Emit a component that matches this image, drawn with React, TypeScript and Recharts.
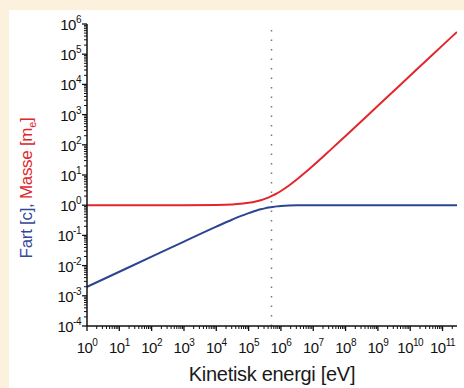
import React from 'react';
import { LineChart, Line, XAxis, YAxis, ReferenceLine } from 'recharts';

// Kinetic energy [eV]
const energyEv = [
  1, 10, 100, 1000, 10000, 31623, 56234, 100000, 133352, 177828, 237137,
  316228, 421697, 562341, 749894, 1000000, 1778279, 3162278, 5623413,
  10000000, 31622777, 100000000, 1e9, 1e10, 1e11, 2.8e11,
];
// Speed [c]
const speedC = [
  0.00198, 0.00626, 0.0198, 0.0625, 0.195, 0.336, 0.434, 0.548, 0.609, 0.671,
  0.730, 0.786, 0.837, 0.879, 0.914, 0.941, 0.975, 0.990, 0.9965, 0.9988,
  0.99987, 1, 1, 1, 1, 1,
];
// Mass [m_e]
const massMe = [
  1.000002, 1.00002, 1.0002, 1.002, 1.0196, 1.062, 1.110, 1.196, 1.261, 1.348,
  1.464, 1.619, 1.825, 2.100, 2.468, 2.957, 4.48, 7.19, 12.0, 20.57, 62.9,
  196.7, 1958, 19570, 195700, 548000,
];

const xMajorExp = [0, 1, 2, 3, 4, 5, 6, 7, 8, 9, 10, 11];
const yMajorExp = [-4, -3, -2, -1, 0, 1, 2, 3, 4, 5, 6];
const minorMult = [2, 3, 4, 5, 6, 7, 8, 9];
const restEnergyEv = 511000;

const X_MAX = 2.8e11;

const data = energyEv.map((e, i) => ({ ke: e, speed: speedC[i], mass: massMe[i] }));

const buildTicks = (exps: number[], max: number) => {
  const t: number[] = [];
  exps.forEach((d) => {
    t.push(Math.pow(10, d));
    minorMult.forEach((m) => {
      const v = m * Math.pow(10, d);
      if (v <= max * 1.0001) t.push(v);
    });
  });
  return t.filter((v) => v <= max * 1.0001);
};

const xTicks = buildTicks(xMajorExp, X_MAX);
const yTicks = buildTicks(yMajorExp, 1e6);

const FONT = '"Liberation Sans", Arial, sans-serif';

const isMajor = (v: number) => {
  const e = Math.log10(v);
  return Math.abs(e - Math.round(e)) < 1e-6;
};

const XTick = (props: any) => {
  const { x, y, payload } = props;
  const v = payload.value;
  if (!isMajor(v)) {
    return <line x1={x} x2={x} y1={y} y2={y + 3} stroke="#111" strokeWidth={1} />;
  }
  const e = Math.round(Math.log10(v));
  return (
    <g>
      <line x1={x} x2={x} y1={y} y2={y + 5} stroke="#111" strokeWidth={1.3} />
      <text x={x} y={y + 27} textAnchor="middle" fontSize={15} fontFamily={FONT} fill="#111" letterSpacing={-0.5}>
        10<tspan dy={-7} fontSize={10}>{e}</tspan>
      </text>
    </g>
  );
};

const YTick = (props: any) => {
  const { x, y, payload } = props;
  const v = payload.value;
  if (!isMajor(v)) {
    return <line x1={x - 3} x2={x} y1={y} y2={y} stroke="#111" strokeWidth={1} />;
  }
  const e = Math.round(Math.log10(v));
  return (
    <g>
      <line x1={x - 5} x2={x} y1={y} y2={y} stroke="#111" strokeWidth={1.3} />
      <text x={x - 6} y={y + 6} textAnchor="end" fontSize={15} fontFamily={FONT} fill="#111" letterSpacing={-0.5}>
        10<tspan dy={-7} fontSize={10}>{e}</tspan>
      </text>
    </g>
  );
};

export default function App() {
  return (
    <div style={{ position: 'absolute', left: 0, top: 0, width: 464, height: 388, background: '#fcf1dc', overflow: 'hidden' }}>
      <div style={{ position: 'absolute', left: 9, top: 10, width: 455, height: 378, background: '#ffffff' }} />
      <div style={{ position: 'absolute', left: 0, top: 0 }}>
        <LineChart
          width={464}
          height={388}
          data={data}
          margin={{ top: 24, right: 7, bottom: 22, left: 0 }}
        >
          <XAxis
            dataKey="ke"
            type="number"
            scale="log"
            domain={[1, X_MAX]}
            ticks={xTicks}
            interval={0}
            tickSize={0}
            tickMargin={0}
            tick={<XTick />}
            height={40}
            axisLine={{ stroke: '#111', strokeWidth: 1.5 }}
            allowDataOverflow
          />
          <YAxis
            type="number"
            scale="log"
            domain={[1e-4, 1e6]}
            ticks={yTicks}
            interval={0}
            tickSize={0}
            tickMargin={0}
            tick={<YTick />}
            width={87}
            axisLine={{ stroke: '#111', strokeWidth: 1.5 }}
            allowDataOverflow
          />
          <ReferenceLine
            x={restEnergyEv}
            stroke="#777"
            strokeWidth={1.5}
            strokeDasharray="1.5 8"
            ifOverflow="extendDomain"
          />
          <Line
            type="monotone"
            dataKey="mass"
            stroke="#e3262b"
            strokeWidth={2}
            dot={false}
            isAnimationActive={false}
          />
          <Line
            type="monotone"
            dataKey="speed"
            stroke="#2b4590"
            strokeWidth={2}
            dot={false}
            isAnimationActive={false}
          />
        </LineChart>
      </div>
      <svg width={464} height={388} style={{ position: 'absolute', left: 0, top: 0, pointerEvents: 'none' }}>
        <text
          x={272}
          y={381}
          textAnchor="middle"
          fontSize={20}
          fontFamily={FONT}
          fill="#1a1a1a"
          letterSpacing={-0.3}
        >
          Kinetisk energi [eV]
        </text>
        <text
          transform="rotate(-90, 32, 188)"
          x={32}
          y={188}
          textAnchor="middle"
          fontSize={17}
          fontFamily={FONT}
          letterSpacing={-0.3}
        >
          <tspan fill="#34489a">Fart [c], </tspan>
          <tspan fill="#e0262b">Masse [m</tspan>
          <tspan fill="#e0262b" fontSize={11} dy={4}>e</tspan>
          <tspan fill="#e0262b" dy={-4}>]</tspan>
        </text>
      </svg>
    </div>
  );
}
